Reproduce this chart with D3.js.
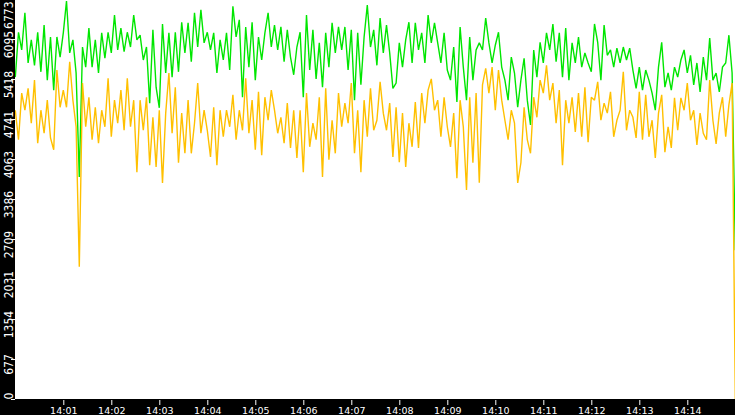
<!DOCTYPE html>
<html>
<head>
<meta charset="utf-8">
<script src="https://cdn.jsdelivr.net/npm/d3@7"></script>
<style>
html, body { margin: 0; padding: 0; background: #000; }
svg { display: block; }
</style>
</head>
<body>
<svg width="735" height="415"></svg>
<script>
// one sample every 4 s, 14:00:00 -> 14:15:00
const startTime = "14:00:00";
const stepSeconds = 4;

const greenValues = [
  5450, 6210, 5910, 6540, 5690, 6080, 5650, 6210, 5540, 6330,
  5400, 6130, 5230, 6130, 5790, 6200, 6740, 5860, 6080, 5520,
  3760, 5960, 5620, 6280, 5620, 6080, 5520, 6200, 5770, 6210,
  5860, 6500, 5910, 6280, 5880, 6210, 5960, 6500, 6080, 6160,
  5740, 5960, 5010, 6250, 5280, 4930, 6350, 5520, 6200, 5450,
  6210, 5540, 6380, 5860, 6370, 5710, 6540, 5960, 6590, 6030,
  6210, 5910, 6200, 5520, 6080, 5740, 6200, 5570, 6650, 6130,
  6420, 5110, 6300, 5620, 6380, 5400, 6130, 5740, 6200, 6540,
  5960, 6330, 5910, 6300, 5710, 6250, 5790, 5490, 5960, 6210,
  5110, 6500, 5570, 6250, 5420, 6030, 5280, 6200, 5620, 6370,
  5860, 6300, 5910, 6300, 5570, 6250, 5060, 6200, 5320, 6130,
  6670, 5960, 6250, 5650, 6450, 5860, 6330, 5860, 5260, 5350,
  6030, 5620, 6080, 6380, 5690, 6370, 5910, 6200, 5690, 6500,
  6030, 6370, 6030, 5690, 6200, 5570, 5400, 5960, 5030, 6300,
  5620, 5060, 6130, 5400, 5910, 6030, 5910, 6450, 6030, 5690,
  5990, 6210, 5620, 5400, 5060, 5790, 5520, 4940, 5400, 5770,
  5060, 4640, 5910, 5450, 6040, 5690, 6200, 5910, 6350, 5710,
  6200, 5450, 6280, 5400, 6030, 5690, 6130, 5620, 5860, 5690,
  5540, 6350, 6040, 5400, 6330, 5820, 5910, 5620, 5940, 5690,
  5960, 5740, 5940, 5570, 5260, 5620, 5230, 5570, 5400, 5180,
  4890, 5620, 6040, 5280, 5520, 5230, 5620, 5450, 5740, 5910,
  5520, 5820, 5320, 5690, 5200, 5790, 5400, 6110, 5400, 5520,
  5200, 5620, 5690, 6160, 5520, 2520
];

const orangeValues = [
  4890, 4390, 5180, 4890, 5260, 4670, 5400, 4330, 4890, 4500,
  5060, 4420, 4220, 5570, 4940, 5230, 4940, 5710, 5060, 4610,
  2240, 5350, 4610, 5110, 4390, 4940, 4330, 4890, 4610, 5430,
  4440, 5060, 4670, 5230, 4550, 5430, 4610, 5060, 3840, 5060,
  4550, 5110, 3960, 4770, 3930, 4890, 3660, 4840, 5520, 4500,
  5280, 4000, 4840, 4160, 5060, 4160, 4670, 5350, 4500, 4890,
  4550, 4100, 4940, 3960, 4890, 4440, 4890, 4610, 5150, 4390,
  4890, 4550, 5430, 4500, 5060, 4220, 5200, 4130, 5110, 4720,
  5230, 4890, 4500, 4770, 4330, 5010, 4250, 4890, 4080, 4890,
  3840, 5180, 4270, 4670, 4390, 5110, 3760, 5260, 4050, 4720,
  4160, 5180, 4610, 5010, 4670, 5350, 4160, 4890, 3840, 5060,
  4440, 5260, 4550, 4720, 5370, 4840, 4550, 5010, 4100, 4940,
  4010, 4840, 3930, 4670, 4270, 5030, 4250, 5180, 4670, 5230,
  5420, 4890, 5060, 4440, 5110, 4610, 4270, 4840, 3740, 5060,
  4610, 3540, 5110, 4000, 5180, 3660, 5320, 5600, 5180, 5620,
  4890, 5570, 5060, 4720, 4390, 4890, 4670, 3660, 4000, 4940,
  4390, 4160, 5110, 4770, 5400, 5180, 5650, 5060, 5350, 4670,
  5230, 3960, 5060, 4670, 5110, 4520, 5180, 4440, 5280, 4350,
  5110, 5060, 5370, 4720, 5010, 4840, 5200, 4440, 4720, 4890,
  5540, 4550, 4890, 4770, 4420, 5200, 4390, 5150, 4440, 4720,
  4080, 4840, 5150, 4180, 4610, 4250, 5100, 4550, 5100, 4890,
  5350, 4720, 4890, 4300, 4840, 4500, 4390, 5400, 4720, 4320,
  4840, 5110, 4440, 4980, 5350, 0
];

const yTickValues = [0, 677, 1354, 2031, 2709, 3386, 4063, 4741, 5418, 6095, 6773];
const xTickLabels = ["14:01", "14:02", "14:03", "14:04", "14:05", "14:06", "14:07",
                     "14:08", "14:09", "14:10", "14:11", "14:12", "14:13", "14:14"];

const W = 735, H = 415;
const plot = { left: 15, right: 735, bottom: 399 };

const svg = d3.select("svg");

svg.append("rect").attr("width", W).attr("height", H).attr("fill", "#000");
svg.append("rect")
    .attr("x", plot.left).attr("y", 0)
    .attr("width", plot.right - plot.left).attr("height", plot.bottom)
    .attr("fill", "#fff");

const t0 = d3.timeParse("%H:%M:%S")(startTime);
const times = greenValues.map((d, i) => d3.timeSecond.offset(t0, i * stepSeconds));

const x = d3.scaleTime()
    .domain([t0, d3.timeMinute.offset(t0, 15)])
    .range([15.3, 735.3]);
const y = d3.scaleLinear()
    .domain([0, 6773])
    .range([399, -1]);

svg.append("clipPath").attr("id", "plotclip")
    .append("rect")
    .attr("x", plot.left).attr("y", 0)
    .attr("width", plot.right - plot.left).attr("height", plot.bottom + 1);

const line = d3.line()
    .x((d, i) => x(times[i]))
    .y(d => y(d));

const lines = svg.append("g").attr("clip-path", "url(#plotclip)");

// green under, orange on top
[[greenValues, "#00e600"], [orangeValues, "#ffc000"]].forEach(([vals, col]) => {
    lines.append("path")
        .datum(vals)
        .attr("fill", "none")
        .attr("stroke", col)
        .attr("stroke-width", 1.4)
        .attr("stroke-linejoin", "miter")
        .attr("stroke-miterlimit", 2)
        .attr("d", line);
});

// x axis
const parseTick = d3.timeParse("%H:%M");
const gx = svg.append("g")
    .attr("transform", `translate(0,${plot.bottom + 1})`)
    .call(d3.axisBottom(x)
        .tickValues(xTickLabels.map(parseTick))
        .tickFormat(d3.timeFormat("%H:%M"))
        .tickSize(5)
        .tickPadding(2));
gx.attr("font-family", "'DejaVu Sans', sans-serif").attr("font-size", 9.5);
gx.select(".domain").remove();
gx.selectAll("line").attr("stroke", "#fff");
gx.selectAll("text").attr("fill", "#fff");

// y axis, labels turned on their side
const gy = svg.append("g")
    .attr("transform", `translate(${plot.left},0)`)
    .call(d3.axisLeft(y)
        .tickValues(yTickValues)
        .tickFormat(d3.format("d"))
        .tickSize(4)
        .tickPadding(0));
gy.attr("font-family", "'Liberation Sans Narrow', 'DejaVu Sans Condensed', sans-serif").attr("font-size", 12);
gy.select(".domain").remove();
gy.selectAll("line").attr("stroke", "#fff");
gy.selectAll("text")
    .attr("fill", "#fff")
    .attr("text-anchor", "middle")
    .attr("dy", null)
    .attr("transform", "rotate(-90)")
    .attr("y", -2.5)
    .attr("x", function(d) {
        const len = this.getComputedTextLength();
        const ty = y(d);
        const c = Math.max(len / 2 + 1, Math.min(plot.bottom - len / 2, ty + 5));
        return -(c - ty);
    });
</script>
</body>
</html>
